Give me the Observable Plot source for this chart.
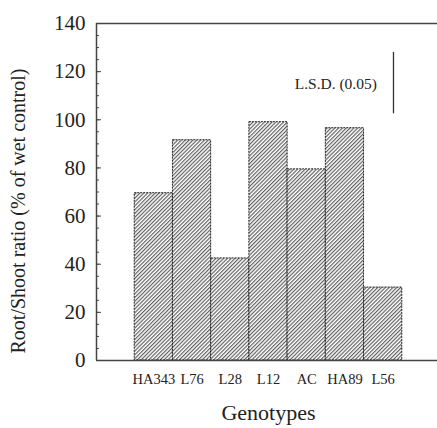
<!DOCTYPE html>
<html>
<head>
<meta charset="utf-8">
<script src="https://cdn.jsdelivr.net/npm/d3@7"></script>
<script src="https://cdn.jsdelivr.net/npm/@observablehq/plot@0.6"></script>
<style>
  html, body { margin: 0; padding: 0; background: #fff; }
  svg { font-family: "Liberation Serif", "DejaVu Serif", serif; }
</style>
</head>
<body>
<div id="chart"></div>
<script>
const genotypes = ["HA343", "L76", "L28", "L12", "AC", "HA89", "L56"];
const ratio = [69.5, 91.5, 42.4, 99, 79.4, 96.5, 30.3];
const yTicks = [0, 20, 40, 60, 80, 100, 120, 140];
const lsdValue = 25.5;
const lsdTop = 128;
const lsdLabel = "L.S.D. (0.05)";

const data = genotypes.map((g, i) => ({g, v: ratio[i], x1: i + 1, x2: i + 2}));
const minor = d3.range(0, 141, 5);

const chart = Plot.plot({
  width: 437,
  height: 428,
  marginLeft: 96,
  marginRight: -3,
  marginTop: 23,
  marginBottom: 68,
  style: {fontFamily: "Liberation Serif, serif", background: "#fff", overflow: "visible"},
  x: {domain: [0, genotypes.length + 2], axis: null},
  y: {domain: [0, 140], axis: null},
  marks: [
    Plot.rectY(data, {x1: "x1", x2: "x2", y: "v", fill: "url(#hatch)", stroke: "#222", strokeWidth: 1, strokeDasharray: "2,1"}),
    Plot.ruleY([0, 140], {stroke: "#444", strokeWidth: 1.5}),
    Plot.ruleX([0], {stroke: "#444", strokeWidth: 1.5}),
    Plot.axisY({ticks: minor, tickSize: -3, text: null, label: null, stroke: "#444"}),
    Plot.axisY({ticks: yTicks, tickSize: -5, text: null, label: null, stroke: "#444"}),
    Plot.axisY({ticks: yTicks, tickSize: 0, tickPadding: 11, fontSize: 21, label: null, fill: "#222"}),
    Plot.text(data, {x: d => (d.x1 + d.x2) / 2, text: "g", frameAnchor: "bottom", dy: 23, fontSize: 14.5, fill: "#222"}),
    Plot.text(["Genotypes"], {frameAnchor: "bottom", dy: 59, fontSize: 22, fill: "#222"}),
    Plot.text(["Root/Shoot ratio (% of wet control)"], {frameAnchor: "left", textAnchor: "middle", dx: -78, dy: 19, rotate: -90, fontSize: 20, fill: "#222"}),
    Plot.ruleX([{x: 7.77}], {x: "x", y1: lsdTop - lsdValue, y2: lsdTop, stroke: "#333", strokeWidth: 1.3}),
    Plot.text([lsdLabel], {x: 6.26, y: 114.8, fontSize: 15.5, fill: "#222"})
  ]
});

const ns = "http://www.w3.org/2000/svg";
const defs = document.createElementNS(ns, "defs");
defs.innerHTML = `<pattern id="hatch" patternUnits="userSpaceOnUse" width="2.7" height="10" patternTransform="rotate(45)">
  <rect width="2.7" height="10" fill="#fff"/>
  <line x1="0.6" y1="0" x2="0.6" y2="10" stroke="#555" stroke-width="1.1"/>
</pattern>`;
chart.insertBefore(defs, chart.firstChild);
document.getElementById("chart").appendChild(chart);
</script>
</body>
</html>
